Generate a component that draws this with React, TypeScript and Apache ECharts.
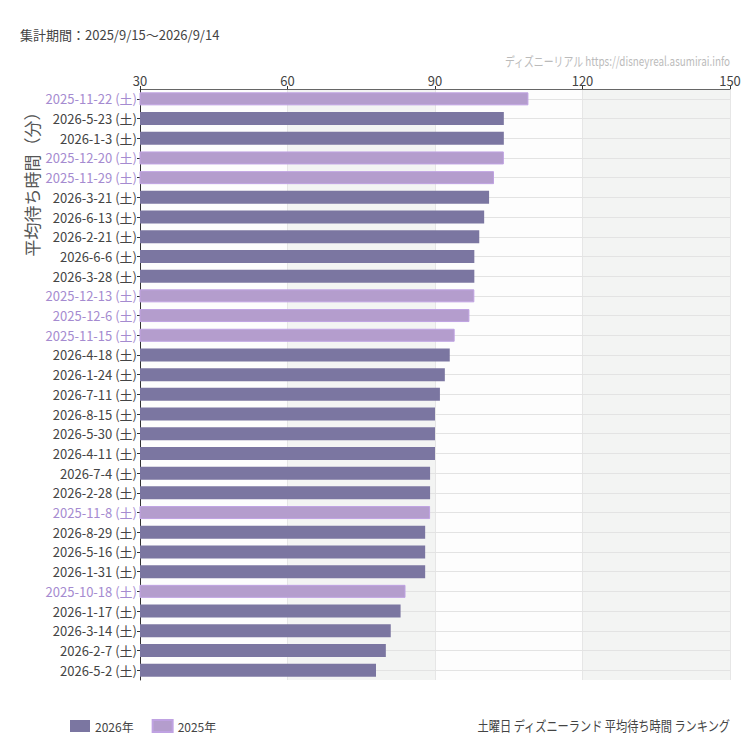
import React, { useEffect, useRef } from 'react';
import * as echarts from 'echarts';

// 土曜日ランキング (上から順)
const dates = [
  '2025-11-22', '2026-5-23', '2026-1-3', '2025-12-20', '2025-11-29',
  '2026-3-21', '2026-6-13', '2026-2-21', '2026-6-6', '2026-3-28',
  '2025-12-13', '2025-12-6', '2025-11-15', '2026-4-18', '2026-1-24',
  '2026-7-11', '2026-8-15', '2026-5-30', '2026-4-11', '2026-7-4',
  '2026-2-28', '2025-11-8', '2026-8-29', '2026-5-16', '2026-1-31',
  '2025-10-18', '2026-1-17', '2026-3-14', '2026-2-7', '2026-5-2',
];
const waitMinutes = [
  109, 104, 104, 104, 102,
  101, 100, 99, 98, 98,
  98, 97, 94, 93, 92,
  91, 90, 90, 90, 89,
  89, 89, 88, 88, 88,
  84, 83, 81, 80, 78,
];
const xTicks = [30, 60, 90, 120, 150];
const legendNames = ['2026年', '2025年'];

const COLOR_2026 = '#7b76a1';
const COLOR_2025 = '#b49dcd';
const FONT = '"Noto Sans CJK JP", "Noto Sans", sans-serif';

const categories = dates.map((d) => `${d} (土)`);
const is2025 = (d: string) => d.startsWith('2025');

export default function App() {
  const chartRef = useRef<HTMLDivElement>(null);

  useEffect(() => {
    document.body.style.margin = '0';
    if (!chartRef.current) return;
    const chart = echarts.init(chartRef.current, undefined, { renderer: 'svg' });

    const option: echarts.EChartsOption = {
      animation: false,
      backgroundColor: '#ffffff',
      textStyle: { fontFamily: FONT },
      graphic: [
        {
          type: 'text',
          left: 20,
          top: 28,
          style: { text: '集計期間：2025/9/15〜2026/9/14', fill: '#444', font: `13px ${FONT}` },
        },
        {
          // 細長い書体の代わりに横方向を縮める
          type: 'text',
          x: 730,
          y: 60,
          scaleX: 0.76,
          style: {
            text: 'ディズニーリアル https://disneyreal.asumirai.info',
            fill: '#bbb',
            font: `13px ${FONT}`,
            align: 'right',
            verticalAlign: 'middle',
          },
        },
        {
          type: 'text',
          x: 31,
          y: 180,
          rotation: Math.PI / 2,
          style: {
            text: '平均待ち時間（分）',
            fill: '#555',
            font: `17px ${FONT}`,
            align: 'center',
            verticalAlign: 'middle',
          },
        },
        {
          type: 'text',
          x: 730,
          y: 725,
          scaleX: 0.8,
          style: {
            text: '土曜日 ディズニーランド 平均待ち時間 ランキング',
            fill: '#444',
            font: `14px ${FONT}`,
            align: 'right',
            verticalAlign: 'middle',
          },
        },
      ],
      legend: {
        left: 65,
        top: 714,
        itemWidth: 20,
        itemHeight: 12,
        itemGap: 18,
        icon: 'rect',
        textStyle: { color: '#444', fontSize: 12 },
        data: legendNames,
      },
      grid: { left: 140, right: 20, top: 89, bottom: 70 },
      xAxis: {
        type: 'value',
        position: 'top',
        z: 0,
        min: xTicks[0],
        max: xTicks[xTicks.length - 1],
        interval: 30,
        axisLine: { show: true, lineStyle: { color: '#666' } },
        axisTick: { show: true, length: 3, lineStyle: { color: '#333' } },
        axisLabel: { color: '#444', fontSize: 13, margin: 2 },
        splitLine: { show: true, lineStyle: { color: '#e6e6e6' } },
        splitArea: { show: true, areaStyle: { color: ['#fdfdfd', '#f3f4f3'] } },
      },
      yAxis: {
        type: 'category',
        inverse: true,
        z: 1,
        data: categories,
        axisLine: { show: true, lineStyle: { color: '#333' } },
        axisTick: { show: true, alignWithLabel: true, length: 3, lineStyle: { color: '#333' } },
        splitLine: { show: true, alignWithLabel: true, lineStyle: { color: '#e3e3e3' } } as any,
        axisLabel: {
          fontSize: 13,
          margin: 3,
          formatter: (v: string) => (is2025(v) ? `{b|${v}}` : `{a|${v}}`),
          rich: {
            a: { color: '#444', fontSize: 13, fontFamily: FONT },
            b: { color: '#a58bd0', fontSize: 13, fontFamily: FONT },
          },
        },
      },
      series: [
        {
          name: legendNames[0],
          type: 'bar',
          stack: 'rank',
          barWidth: 13,
          itemStyle: { color: COLOR_2026 },
          data: dates.map((d, i) => (is2025(d) ? '-' : waitMinutes[i])),
        },
        {
          name: legendNames[1],
          type: 'bar',
          stack: 'rank',
          barWidth: 13,
          itemStyle: { color: COLOR_2025, borderColor: '#bfa2e2', borderWidth: 1 },
          data: dates.map((d, i) => (is2025(d) ? waitMinutes[i] : '-')),
        },
      ],
    };

    chart.setOption(option);
    return () => chart.dispose();
  }, []);

  return <div ref={chartRef} style={{ width: 750, height: 750 }} />;
}
